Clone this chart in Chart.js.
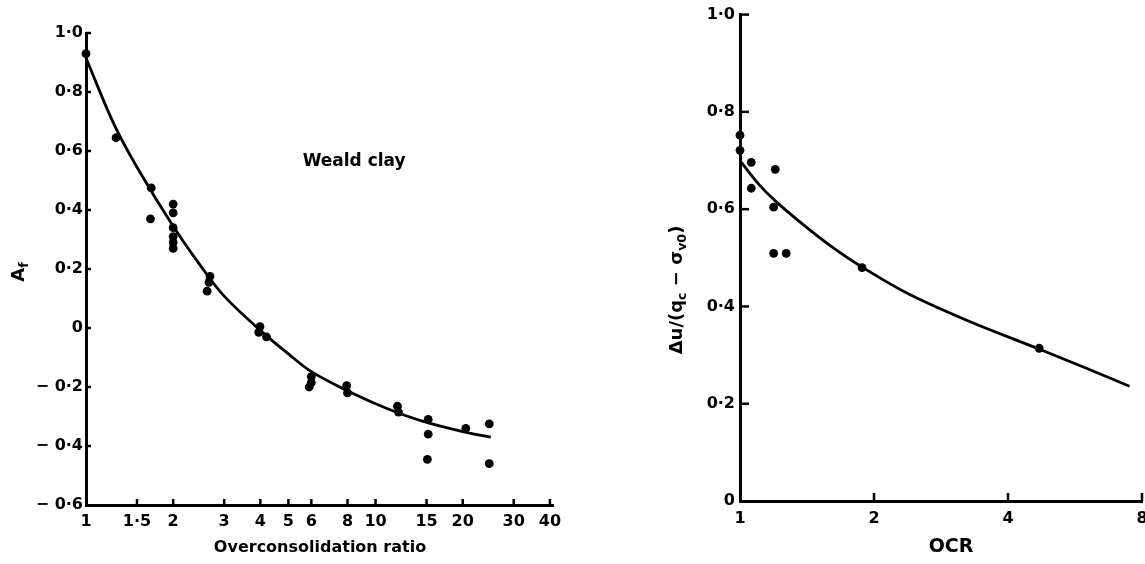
<!DOCTYPE html>
<html>
<head>
<meta charset="utf-8">
<script src="https://cdn.jsdelivr.net/npm/chart.js@4.4.0/dist/chart.umd.min.js"></script>
<style>
  html, body { margin: 0; padding: 0; background: #fff; overflow: hidden; }
  #left { position: absolute; left: 0; top: 0; width: 580px; height: 564px; }
  #right { position: absolute; left: 600px; top: 0; width: 560px; height: 564px; }
</style>
</head>
<body>
<div id="left"><canvas id="leftChart"></canvas></div>
<div id="right"><canvas id="rightChart"></canvas></div>
<script>
// Left panel: Weald clay, A_f vs overconsolidation ratio
const ocrPoints = [1, 1.27, 1.68, 1.67, 2, 2, 2, 2, 2, 2, 2.68, 2.66, 2.62, 3.99, 3.95, 4.2, 6, 6, 5.9, 7.95, 8, 11.9, 12, 15.2, 15.2, 15.1, 20.5, 24.7, 24.7];
const afPoints = [0.93, 0.645, 0.475, 0.37, 0.42, 0.39, 0.34, 0.31, 0.29, 0.27, 0.175, 0.155, 0.125, 0.005, -0.015, -0.03, -0.165, -0.185, -0.2, -0.195, -0.22, -0.265, -0.285, -0.31, -0.36, -0.445, -0.34, -0.325, -0.46];
const ocrCurve = [1, 1.25, 1.5, 2, 2.5, 3, 4, 5, 6, 8, 10, 12, 15, 20, 25];
const afCurve = [0.915, 0.69, 0.545, 0.345, 0.208, 0.108, -0.008, -0.088, -0.148, -0.213, -0.257, -0.288, -0.32, -0.351, -0.37];
const leftXTicks = [1, 1.5, 2, 3, 4, 5, 6, 8, 10, 15, 20, 30, 40];
const leftYTicks = [-0.6, -0.4, -0.2, 0, 0.2, 0.4, 0.6, 0.8, 1.0];

// Right panel: du/(qc - sv0) vs OCR
const ocrRight = [1, 1, 1.06, 1.06, 1.2, 1.19, 1.19, 1.27, 1.88, 4.7];
const duRight = [0.752, 0.721, 0.696, 0.643, 0.682, 0.604, 0.509, 0.509, 0.48, 0.314];
const ocrRightCurve = [1, 1.1, 1.2, 1.4, 1.6, 1.88, 2.4, 3.3, 4.65, 6, 7.5];
const duRightCurve = [0.70, 0.652, 0.617, 0.565, 0.524, 0.481, 0.425, 0.368, 0.314, 0.273, 0.236];
const rightXTicks = [1, 2, 4, 8];
const rightYTicks = [0, 0.2, 0.4, 0.6, 0.8, 1.0];

const FONT = '"DejaVu Sans", Verdana, sans-serif';
Chart.defaults.color = '#000';
Chart.defaults.font.family = FONT;

const toXY = (xs, ys) => xs.map((x, i) => ({ x: x, y: ys[i] }));

const fmtX = (v) => String(v).replace('.', '\u00b7');
const fmtY = (v) => {
    if (Math.abs(v) < 1e-9) return '0';
    return (v < 0 ? '\u2212 ' : '') + Math.abs(v).toFixed(1).replace('.', '\u00b7');
};

// small tick marks drawn inside the plot, like the original
const innerTicks = {
    id: 'innerTicks',
    afterDraw(chart, args, opts) {
        const { ctx, chartArea } = chart;
        const x = chart.scales.x, y = chart.scales.y;
        ctx.save();
        ctx.strokeStyle = '#000';
        ctx.lineWidth = opts.width;
        x.ticks.forEach((t) => {
            if (t.value === x.min) return;
            const px = x.getPixelForValue(t.value);
            ctx.beginPath();
            ctx.moveTo(px, chartArea.bottom);
            ctx.lineTo(px, chartArea.bottom - opts.xLen);
            ctx.stroke();
        });
        y.ticks.forEach((t) => {
            if (t.value === y.min) return;
            const py = y.getPixelForValue(t.value);
            ctx.beginPath();
            ctx.moveTo(chartArea.left, py);
            ctx.lineTo(chartArea.left + opts.yLen, py);
            ctx.stroke();
        });
        ctx.restore();
    }
};

// axis titles with subscripts, plus the in-plot note
const drawParts = (ctx, parts, size) => {
    let w = 0;
    parts.forEach((p) => {
        ctx.font = 'bold ' + (p.sub ? size * 0.7 : size) + 'px ' + FONT;
        w += ctx.measureText(p.t).width;
    });
    let cx = -w / 2;
    parts.forEach((p) => {
        ctx.font = 'bold ' + (p.sub ? size * 0.7 : size) + 'px ' + FONT;
        ctx.fillText(p.t, cx, p.sub ? size * 0.3 : 0);
        cx += ctx.measureText(p.t).width;
    });
};

const labels = {
    id: 'labels',
    afterDraw(chart, args, opts) {
        const { ctx } = chart;
        ctx.save();
        ctx.fillStyle = '#000';
        ctx.textBaseline = 'middle';
        ctx.textAlign = 'left';
        (opts.items || []).forEach((it) => {
            ctx.save();
            ctx.translate(it.x, it.y);
            if (it.rotate) ctx.rotate(-Math.PI / 2);
            drawParts(ctx, it.parts, it.size);
            ctx.restore();
        });
        if (opts.note) {
            const n = opts.note;
            ctx.font = 'bold ' + n.size + 'px ' + FONT;
            ctx.fillText(n.text, chart.scales.x.getPixelForValue(n.x), chart.scales.y.getPixelForValue(n.y));
        }
        ctx.restore();
    }
};

const makeScales = (cfg) => ({
    x: {
        type: 'logarithmic',
        min: cfg.xMin,
        max: cfg.xMax,
        afterBuildTicks: (s) => { s.ticks = cfg.xTicks.map((v) => ({ value: v })); },
        afterFit: (s) => { s.height = cfg.xHeight; },
        border: { display: true, color: '#000', width: 3 },
        grid: { display: true, drawOnChartArea: false, drawTicks: false, color: 'rgba(0,0,0,0)' },
        ticks: {
            autoSkip: false, maxRotation: 0, padding: cfg.xPad,
            font: { size: 16, weight: 'bold' },
            callback: (v) => fmtX(v)
        }
    },
    y: {
        type: 'linear',
        min: cfg.yMin,
        max: cfg.yMax,
        afterBuildTicks: (s) => { s.ticks = cfg.yTicks.map((v) => ({ value: v })); },
        afterFit: (s) => { s.width = cfg.yWidth; },
        border: { display: true, color: '#000', width: 3 },
        grid: { display: true, drawOnChartArea: false, drawTicks: false, color: 'rgba(0,0,0,0)' },
        ticks: {
            autoSkip: false, padding: cfg.yPad,
            font: { size: 16, weight: 'bold' },
            callback: (v) => fmtY(v)
        }
    }
});

const pointSet = (xs, ys) => ({
    data: toXY(xs, ys),
    showLine: false,
    clip: false,
    pointRadius: 4.4,
    pointBackgroundColor: '#000',
    pointBorderWidth: 0
});

const curveSet = (xs, ys) => ({
    data: toXY(xs, ys),
    showLine: true,
    clip: false,
    borderColor: '#000',
    borderWidth: 2.8,
    pointRadius: 0,
    tension: 0.35,
    fill: false
});

new Chart(document.getElementById('leftChart'), {
    type: 'scatter',
    data: { datasets: [curveSet(ocrCurve, afCurve), pointSet(ocrPoints, afPoints)] },
    plugins: [innerTicks, labels],
    options: {
        responsive: true,
        maintainAspectRatio: false,
        animation: false,
        layout: { padding: { left: 0, right: 27, top: 33, bottom: 0 } },
        scales: makeScales({
            xMin: 1, xMax: 41, xTicks: leftXTicks, xHeight: 59, xPad: 7,
            yMin: -0.6, yMax: 1.0, yTicks: leftYTicks, yWidth: 86, yPad: 3
        }),
        plugins: {
            legend: { display: false },
            tooltip: { enabled: false },
            innerTicks: { width: 2.5, xLen: 6, yLen: 5 },
            labels: {
                items: [
                    { x: 320, y: 548, size: 16, parts: [{ t: 'Overconsolidation ratio' }] },
                    { x: 19, y: 272, size: 18, rotate: true, parts: [{ t: 'A' }, { t: 'f', sub: true }] }
                ],
                note: { text: 'Weald clay', x: 5.6, y: 0.563, size: 17 }
            }
        }
    }
});

new Chart(document.getElementById('rightChart'), {
    type: 'scatter',
    data: { datasets: [curveSet(ocrRightCurve, duRightCurve), pointSet(ocrRight, duRight)] },
    plugins: [innerTicks, labels],
    options: {
        responsive: true,
        maintainAspectRatio: false,
        animation: false,
        layout: { padding: { left: 0, right: 18, top: 14, bottom: 0 } },
        scales: makeScales({
            xMin: 1, xMax: 8, xTicks: rightXTicks, xHeight: 63, xPad: 8,
            yMin: 0, yMax: 1.0, yTicks: rightYTicks, yWidth: 140, yPad: 5
        }),
        plugins: {
            legend: { display: false },
            tooltip: { enabled: false },
            innerTicks: { width: 2.5, xLen: 8, yLen: 9 },
            labels: {
                items: [
                    { x: 351, y: 547, size: 19, parts: [{ t: 'OCR' }] },
                    { x: 77, y: 290, size: 18, rotate: true, parts: [
                        { t: '\u0394u/(q' }, { t: 'c', sub: true }, { t: ' \u2212 \u03c3' }, { t: 'v0', sub: true }, { t: ')' }
                    ] }
                ]
            }
        }
    }
});
</script>
</body>
</html>
